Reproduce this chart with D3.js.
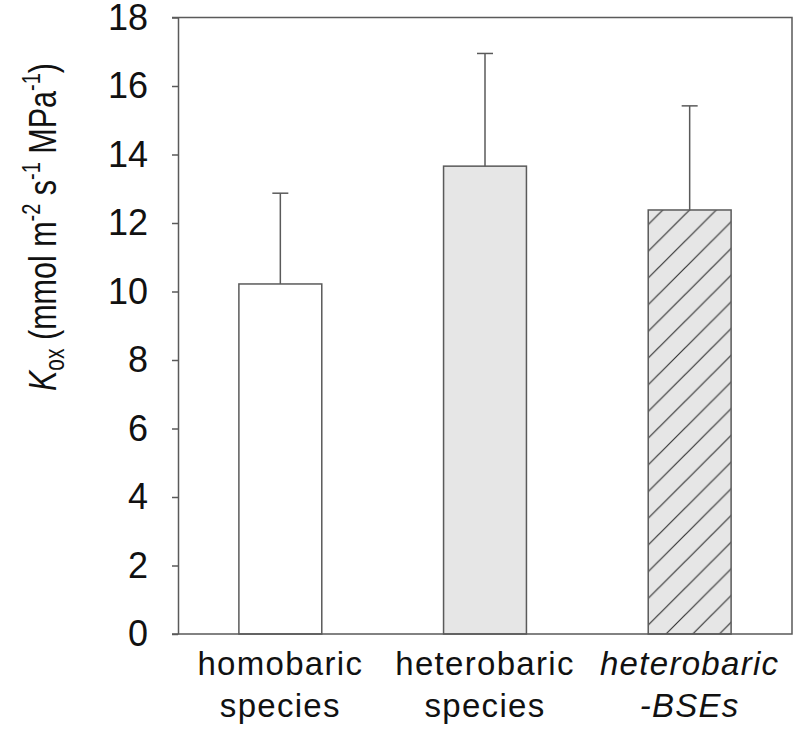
<!DOCTYPE html>
<html>
<head>
<meta charset="utf-8">
<script src="https://cdn.jsdelivr.net/npm/d3@7"></script>
<style>
  body { margin: 0; background: #fff; }
  text { font-family: "Liberation Sans", Arial, sans-serif; fill: #111; }
</style>
</head>
<body>
<svg id="chart" width="797" height="729"></svg>
<script>
// data
var groups = ["homobaric species", "heterobaric species", "heterobaric -BSEs"];
var groupLines = [["homobaric", "species"], ["heterobaric", "species"], ["heterobaric", "-BSEs"]];
var means = [10.22, 13.66, 12.38];
var errors = [2.65, 3.29, 3.04];
var yTicks = [0, 2, 4, 6, 8, 10, 12, 14, 16, 18];

var W = 797, H = 729;
var margin = { top: 17.5, right: 5, bottom: 95, left: 178 };
var axisColor = "#5a5a5a";

var svg = d3.select("#chart");

// hatch for the third bar
var defs = svg.append("defs");
var s = 26.7;
var pat = defs.append("pattern")
	.attr("id", "hatch")
	.attr("patternUnits", "userSpaceOnUse")
	.attr("x", 18.4)
	.attr("width", s)
	.attr("height", s);
pat.append("rect").attr("width", s).attr("height", s).attr("fill", "#e6e6e6");
pat.append("path")
	.attr("d", "M0," + s + "L" + s + ",0M-2,2L2,-2M" + (s - 2) + "," + (s + 2) + "L" + (s + 2) + "," + (s - 2))
	.attr("stroke", "#333")
	.attr("stroke-width", 1.2);

var x = d3.scaleBand()
	.domain(groups)
	.range([margin.left, W - margin.right])
	.paddingInner(0.595)
	.paddingOuter(0.2975);

var y = d3.scaleLinear()
	.domain([0, 18])
	.range([H - margin.bottom, margin.top]);

var fills = ["#ffffff", "#e6e6e6", "url(#hatch)"];

// bars
svg.append("g")
	.selectAll("rect")
	.data(groups)
	.enter()
	.append("rect")
	.attr("x", function(d) { return x(d); })
	.attr("y", function(d, i) { return y(means[i]); })
	.attr("width", x.bandwidth())
	.attr("height", function(d, i) { return y(0) - y(means[i]); })
	.attr("fill", function(d, i) { return fills[i]; })
	.attr("stroke", axisColor)
	.attr("stroke-width", 1.5);

// upper error bars
var err = svg.append("g")
	.attr("stroke", axisColor)
	.attr("stroke-width", 1.5);
groups.forEach(function(g, i) {
	var cx = x(g) + x.bandwidth() / 2;
	err.append("line")
		.attr("x1", cx).attr("x2", cx)
		.attr("y1", y(means[i])).attr("y2", y(means[i] + errors[i]));
	err.append("line")
		.attr("x1", cx - 8).attr("x2", cx + 8)
		.attr("y1", y(means[i] + errors[i])).attr("y2", y(means[i] + errors[i]));
});

// y axis
var yAxis = svg.append("g")
	.attr("transform", "translate(" + margin.left + ",0)")
	.call(d3.axisLeft(y).tickValues(yTicks).tickSize(6).tickPadding(24).tickSizeOuter(0));
yAxis.select(".domain").attr("stroke", axisColor).attr("stroke-width", 1.5);
yAxis.selectAll(".tick line").attr("stroke", axisColor).attr("stroke-width", 1.5);
yAxis.selectAll(".tick text")
	.style("font-size", "36px")
	.attr("fill", "#111");

// frame: top, right, bottom
var frame = svg.append("g")
	.attr("stroke", axisColor)
	.attr("stroke-width", 1.5)
	.attr("fill", "none");
frame.append("path")
	.attr("d", "M" + (margin.left - 6) + "," + y(18) + "H" + (W - margin.right) + "V" + y(0) + "H" + (margin.left - 6));

// x labels
var xl = svg.append("g");
groups.forEach(function(g, i) {
	var t = xl.append("text")
		.attr("x", x(g) + x.bandwidth() / 2)
		.attr("y", y(0) + 41)
		.attr("text-anchor", "middle")
		.style("font-size", "33px")
		.style("letter-spacing", "1.3px")
		.style("font-style", i === 2 ? "italic" : "normal");
	groupLines[i].forEach(function(line, j) {
		t.append("tspan")
			.attr("x", x(g) + x.bandwidth() / 2)
			.attr("dy", j === 0 ? 0 : 42)
			.text(line);
	});
});

// y title (glyphs stretched across, as in the figure)
var title = svg.append("text")
	.attr("transform", "translate(56,391) scale(1.3,1) rotate(-90)")
	.attr("text-anchor", "start")
	.style("font-size", "30.5px");
title.append("tspan").style("font-style", "italic").text("K");
title.append("tspan").attr("dy", 6).style("font-size", "21px").text("ox");
title.append("tspan").attr("dy", -6).text(" (mmol m");
title.append("tspan").attr("dy", -12).style("font-size", "20px").text("-2");
title.append("tspan").attr("dy", 12).text(" s");
title.append("tspan").attr("dy", -12).style("font-size", "20px").text("-1");
title.append("tspan").attr("dy", 12).text(" MPa");
title.append("tspan").attr("dy", -12).style("font-size", "20px").text("-1");
title.append("tspan").attr("dy", 12).text(")");
</script>
</body>
</html>
